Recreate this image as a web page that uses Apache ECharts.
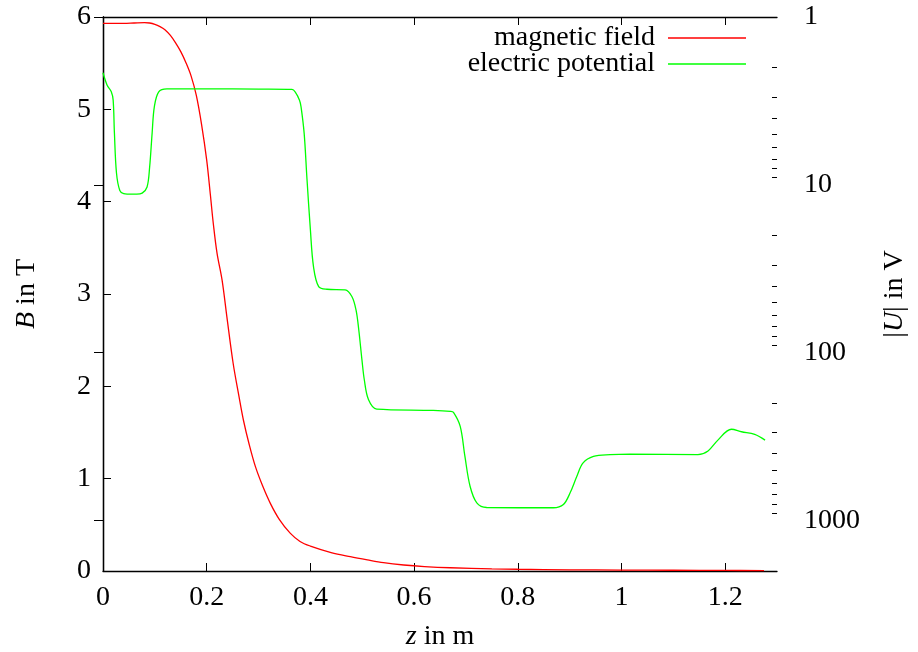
<!DOCTYPE html>
<html>
<head>
<meta charset="utf-8">
<script src="https://cdn.jsdelivr.net/npm/echarts@6/dist/echarts.min.js"></script>
<style>
html,body{margin:0;padding:0;background:#fff;}
#chart{width:918px;height:652px;}
</style>
</head>
<body>
<div id="chart"></div>
<script>
// magnetic field B (T) vs z (m)
var zB = [0, 0.02, 0.04, 0.06, 0.08, 0.09, 0.10, 0.11, 0.12, 0.13, 0.14, 0.15, 0.16, 0.17, 0.18, 0.19, 0.2, 0.207, 0.213, 0.22, 0.2297, 0.239, 0.251, 0.262, 0.271, 0.282, 0.294, 0.308, 0.323, 0.34, 0.361, 0.38, 0.40, 0.44, 0.477, 0.51, 0.541, 0.58, 0.62, 0.67, 0.75, 0.8, 0.9, 1.0, 1.1, 1.2, 1.275];
var B = [5.93, 5.93, 5.93, 5.935, 5.94, 5.935, 5.92, 5.895, 5.86, 5.80, 5.72, 5.625, 5.505, 5.36, 5.15, 4.84, 4.45, 4.08, 3.75, 3.44, 3.15, 2.75, 2.25, 1.90, 1.63, 1.37, 1.13, 0.92, 0.73, 0.56, 0.41, 0.32, 0.27, 0.20, 0.155, 0.12, 0.09, 0.065, 0.048, 0.035, 0.024, 0.019, 0.013, 0.010, 0.008, 0.006, 0.005];
// electric potential |U| (V) vs z (m)
var zU = [0, 0.008, 0.016, 0.0196, 0.022, 0.026, 0.0324, 0.04, 0.0466, 0.065, 0.0755, 0.085, 0.09, 0.0948, 0.099, 0.1075, 0.1233, 0.2, 0.3, 0.3645, 0.3709, 0.379, 0.382, 0.388, 0.3934, 0.40, 0.406, 0.416, 0.432, 0.467, 0.480, 0.488, 0.4933, 0.4994, 0.504, 0.512, 0.528, 0.637, 0.67, 0.676, 0.689, 0.698, 0.708, 0.721, 0.740, 0.8686, 0.888, 0.901, 0.914, 0.926, 0.946, 0.978, 1.0164, 1.1474, 1.167, 1.186, 1.212, 1.2317, 1.257, 1.277];
var U = [2.15, 2.55, 2.79, 3.13, 4.9, 8.5, 10.8, 11.3, 11.35, 11.35, 11.2, 10.3, 7.8, 4.9, 3.43, 2.79, 2.68, 2.68, 2.69, 2.70, 2.8, 3.13, 3.43, 4.94, 9.2, 18.5, 30.7, 40.4, 41.9, 42.3, 46.3, 55.6, 73, 110, 145, 190, 217, 221, 224, 227, 275, 414, 625, 785, 837, 840, 803, 684, 545, 454, 415, 405, 402, 405, 385, 332, 286, 296, 307, 332];

var xTicks = [0, 0.2, 0.4, 0.6, 0.8, 1.0, 1.2];
var uMajor = [1, 10, 100, 1000];
var uMinor = [2,3,4,5,6,7,8,9,20,30,40,50,60,70,80,90,200,300,400,500,600,700,800,900,2000];
var seriesNames = ['magnetic field', 'electric potential'];
var seriesColors = ['#ff0000', '#00ff00'];

var FONT = '"Liberation Serif", "Times New Roman", serif';
var FS = 28;
function pairs(xs, ys){ return xs.map(function(x,i){ return [x, ys[i]]; }); }
var italicRich = { i: { fontStyle: 'italic', fontFamily: FONT, fontSize: FS, color: '#000' }, n: { fontFamily: FONT, fontSize: FS, color: '#000' } };
var labelStyle = { color: '#000', fontFamily: FONT, fontSize: FS };

// legend key drawn as graphic elements (text right-aligned, line sample to the right)
var legendGraphic = [];
seriesNames.forEach(function(name, k){
  var cy = 38 + k * 26;
  legendGraphic.push({ type: 'text', x: 655, y: cy, silent: true,
    style: { text: name, font: FS + 'px ' + FONT, fill: '#000', align: 'right', verticalAlign: 'middle' } });
  legendGraphic.push({ type: 'line', silent: true,
    shape: { x1: 668, y1: cy, x2: 746, y2: cy },
    style: { stroke: seriesColors[k], lineWidth: 1.3 } });
});

var chart = echarts.init(document.getElementById('chart'), null, {renderer: 'canvas'});
chart.setOption({
  animation: false,
  backgroundColor: '#fff',
  textStyle: { fontFamily: FONT },
  grid: { left: 103, right: 141, top: 17, bottom: 81, containLabel: false, outerBoundsMode: 'none' },
  graphic: legendGraphic,
  xAxis: [{
    type: 'value', min: 0, max: 1.3, position: 'bottom',
    name: '{i|z}{n| in m}', nameLocation: 'middle', nameGap: 52,
    nameTextStyle: { rich: italicRich },
    axisLine: { lineStyle: { color: '#000', width: 1.3 } },
    axisTick: { inside: true, length: 8, lineStyle: { color: '#000' }, customValues: xTicks },
    axisLabel: Object.assign({ margin: 13, customValues: xTicks }, labelStyle),
    splitLine: { show: false }
  }, {
    type: 'value', min: 0, max: 1.3, position: 'top',
    axisLine: { lineStyle: { color: '#000', width: 1.3 } },
    axisTick: { inside: true, length: 8, lineStyle: { color: '#000' }, customValues: xTicks },
    axisLabel: { show: false },
    splitLine: { show: false }
  }],
  yAxis: [{
    type: 'value', min: 0, max: 6, interval: 1, position: 'left',
    name: '{i|B}{n| in T}', nameLocation: 'middle', nameGap: 62, nameRotate: 90,
    nameTextStyle: { rich: italicRich },
    axisLine: { lineStyle: { color: '#000', width: 1.3 } },
    axisTick: { inside: true, length: 8, lineStyle: { color: '#000' } },
    axisLabel: Object.assign({ margin: 12 }, labelStyle),
    splitLine: { show: false }
  }, {
    type: 'log', logBase: 10, min: 1, max: 2000, inverse: true, position: 'right',
    name: '{n||}{i|U}{n|| in V}', nameLocation: 'middle', nameGap: 104, nameRotate: 90,
    nameTextStyle: { rich: italicRich },
    axisLine: { lineStyle: { color: '#000', width: 1.3 } },
    axisTick: { inside: true, length: 9, lineStyle: { color: '#000' }, customValues: uMajor },
    axisLabel: Object.assign({ margin: 27, customValues: uMajor, formatter: function(v){ return String(Math.round(v)); } }, labelStyle),
    splitLine: { show: false }
  }, {
    type: 'log', logBase: 10, min: 1, max: 2000, inverse: true, position: 'right',
    axisLine: { show: false },
    axisTick: { inside: true, length: 5, lineStyle: { color: '#000' }, customValues: uMinor },
    axisLabel: { show: false },
    splitLine: { show: false }
  }],
  series: [{
    name: seriesNames[0], type: 'line', xAxisIndex: 0, yAxisIndex: 0,
    data: pairs(zB, B), showSymbol: false, symbol: 'none',
    smooth: 0.35,
    lineStyle: { color: seriesColors[0], width: 1.3 }, itemStyle: { color: seriesColors[0] }
  }, {
    name: seriesNames[1], type: 'line', xAxisIndex: 0, yAxisIndex: 1,
    data: pairs(zU, U), showSymbol: false, symbol: 'none',
    smooth: 0.35,
    lineStyle: { color: seriesColors[1], width: 1.3 }, itemStyle: { color: seriesColors[1] }
  }]
});
</script>
</body>
</html>
